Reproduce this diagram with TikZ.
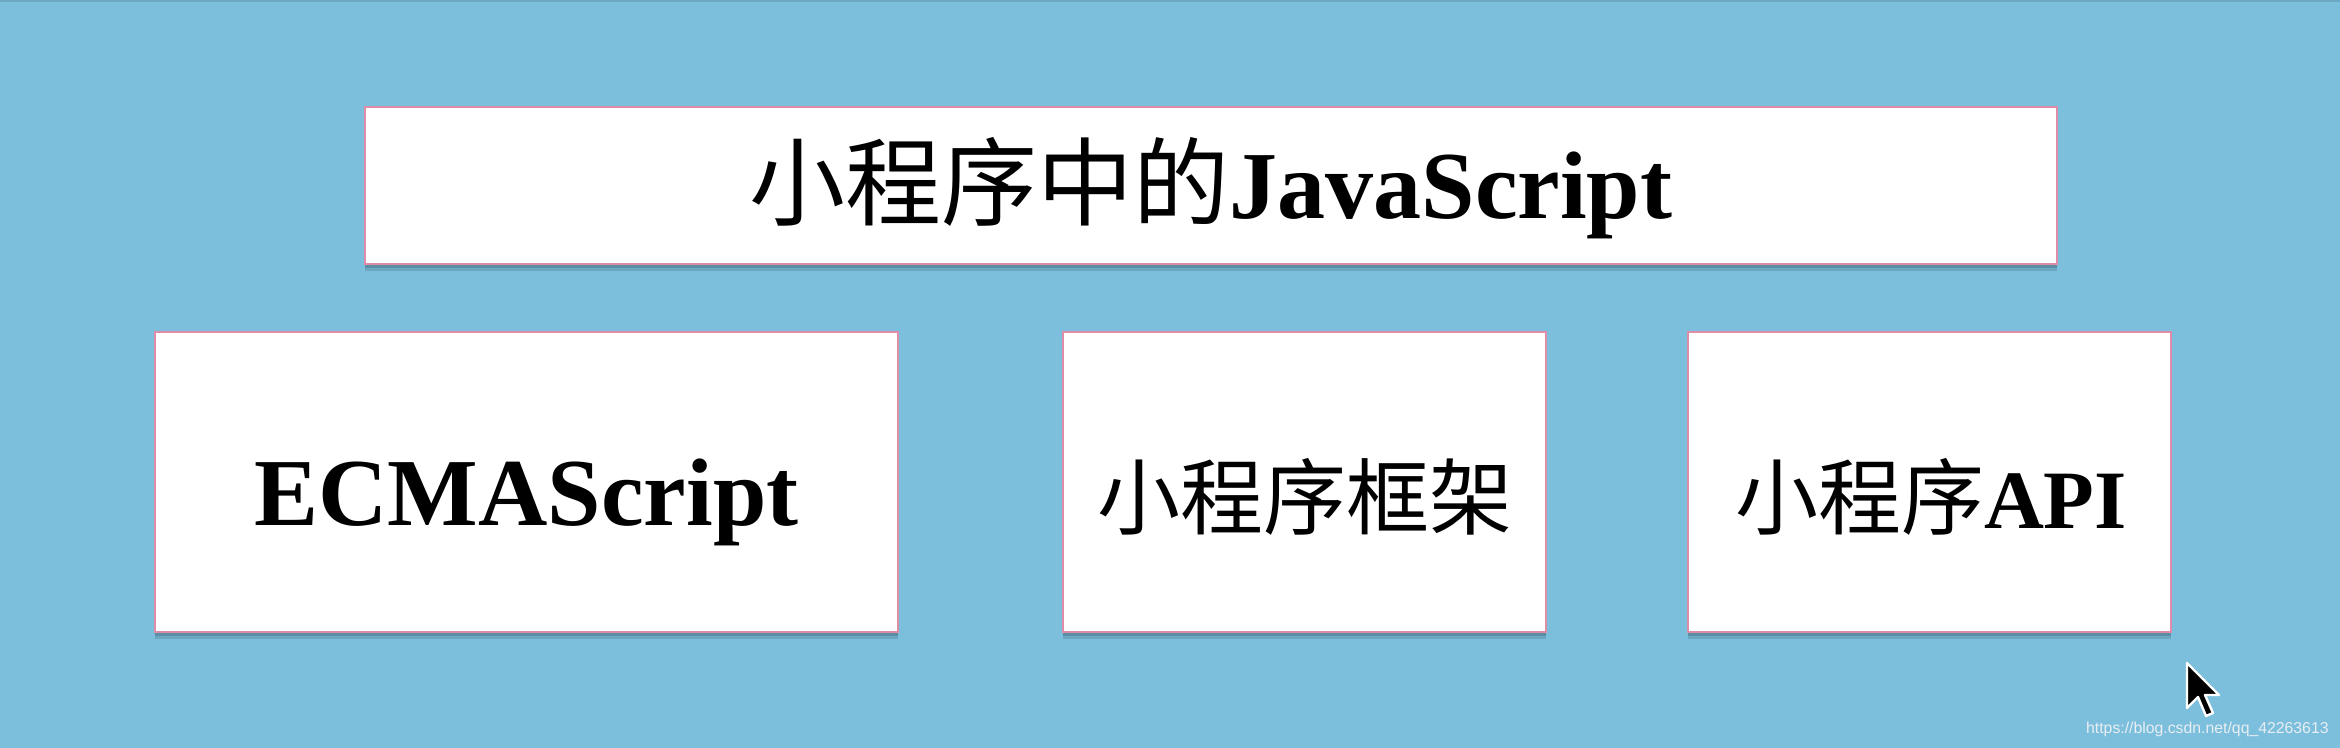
\documentclass[tikz,border=0pt]{standalone}
\usepackage{fontspec}
\setmainfont{Liberation Serif}
\setsansfont{Liberation Sans}
\newfontfamily\cjk{Noto Sans CJK SC}
\usetikzlibrary{shadows}
\definecolor{bgblue}{RGB}{124,191,221}
\definecolor{boxedge}{RGB}{222,140,168}
\definecolor{wmcol}{RGB}{232,238,243}
\tikzset{
  card/.style={draw=boxedge, line width=1.1pt, fill=white, inner sep=0pt,
    drop shadow={shadow xshift=0pt, shadow yshift=-3.5pt, opacity=0.12, fill=black},
    drop shadow={shadow xshift=0pt, shadow yshift=-2pt, opacity=0.15, fill=black}},
  lbl/.style={anchor=base, inner sep=0pt},
  bigfont/.style={font=\fontsize{48}{48}\selectfont},
  midfont/.style={font=\fontsize{41.5}{42}\selectfont},
}
\begin{document}
\begin{tikzpicture}[x=0.5pt,y=-0.5pt]
\fill[bgblue] (0,0) rectangle (2340,748);
\useasboundingbox (0,0) rectangle (2340,748);
\fill[black!12!bgblue] (0,0) rectangle (2340,2);
% boxes
\node[card, minimum width=846pt, minimum height=78.5pt] (top) at (1211,185.5) {};
\node[card, minimum width=371.5pt, minimum height=150pt] (ecma) at (526.5,482) {};
\node[card, minimum width=241.5pt, minimum height=150pt] (frame) at (1304.5,482) {};
\node[card, minimum width=241.5pt, minimum height=150pt] (api) at (1929.5,482) {};
% labels
\node[lbl, bigfont] (toptext) at (1211,219) {{\cjk 小程序中的}\textbf{JavaScript}};
\node[lbl, bigfont] (ecmatext) at (526.5,525) {\textbf{ECMAScript}};
\node[lbl, midfont] (frametext) at (1304.5,529) {\cjk 小程序框架};
\node[lbl, midfont] (apitext) at (1931,529) {{\cjk 小程序}\textbf{API}};
% watermark
\node[anchor=base east, inner sep=0pt, text=wmcol, font=\sffamily\fontsize{7.9}{8}\selectfont] (wm) at (2329,733) {https://blog.csdn.net/qq\_42263613};
% mouse cursor
\draw[fill=black, draw=white, line width=1.2pt, line join=round]
  (2187,663) -- (2187,708) -- (2198,697) -- (2206,716) -- (2213,713) -- (2205,695) -- (2219,695) -- cycle;
\end{tikzpicture}
\end{document}
